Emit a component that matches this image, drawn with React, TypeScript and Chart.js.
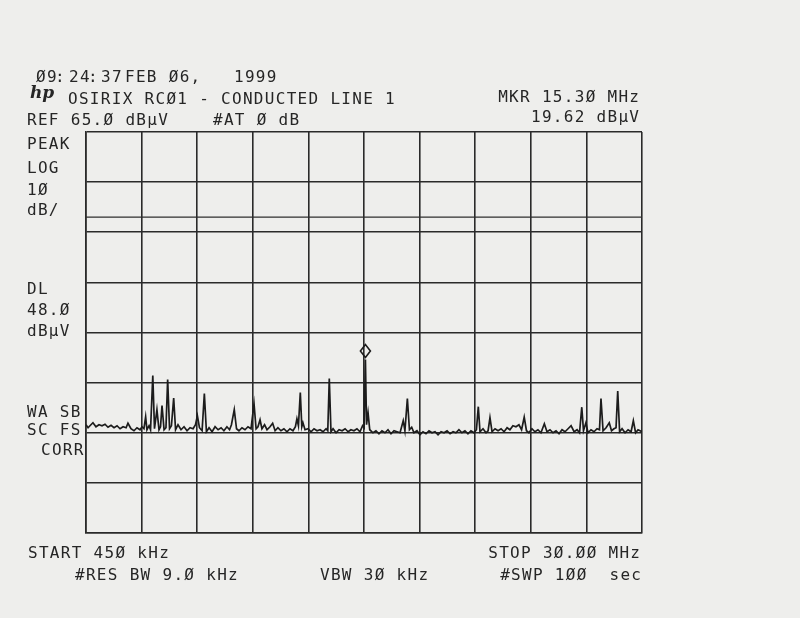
import { useEffect, useRef } from "react";
import { Chart, registerables, ChartConfiguration, Plugin } from "chart.js";

Chart.register(...registerables);

// analyzer settings
const startMHz = 0.45;
const stopMHz = 30.0;
const refLevel = 65.0; // dBµV at top graticule line
const dbPerDiv = 10;
const xDivs = 10;
const yDivs = 8;
const displayLine = 48.0;
const markerMHz = 15.3;
const markerLevel = 19.62;

// trace
const freqMHz = [
  0.45, 0.56, 0.66, 0.82, 0.98, 1.14, 1.3, 1.46, 1.62, 1.78, 1.94, 2.1, 2.26, 2.42, 2.58, 2.68, 2.84, 3.0,
  3.16, 3.32, 3.43, 3.53, 3.62, 3.69, 3.8, 3.88, 4.0, 4.09, 4.22, 4.33, 4.41, 4.49, 4.6, 4.7, 4.79, 4.89,
  4.99, 5.11, 5.21, 5.34, 5.5, 5.66, 5.82, 5.98, 6.14, 6.27, 6.37, 6.48, 6.62, 6.74, 6.85, 6.99, 7.15, 7.31,
  7.47, 7.63, 7.78, 7.94, 8.08, 8.18, 8.33, 8.45, 8.58, 8.74, 8.9, 9.06, 9.22, 9.38, 9.49, 9.59, 9.7, 9.8,
  9.94, 10.07, 10.23, 10.37, 10.5, 10.65, 10.81, 10.97, 11.13, 11.29, 11.45, 11.58, 11.66, 11.74, 11.84,
  11.92, 11.98, 12.09, 12.25, 12.41, 12.57, 12.73, 12.89, 13.05, 13.21, 13.3, 13.38, 13.47, 13.58, 13.74,
  13.9, 14.06, 14.22, 14.38, 14.53, 14.69, 14.85, 15.01, 15.15, 15.23, 15.3, 15.36, 15.44, 15.53, 15.7,
  15.86, 16.02, 16.18, 16.34, 16.5, 16.66, 16.82, 16.98, 17.14, 17.31, 17.4, 17.53, 17.64, 17.76, 17.88,
  18.04, 18.2, 18.36, 18.52, 18.68, 18.84, 19.0, 19.16, 19.32, 19.48, 19.64, 19.8, 19.96, 20.11, 20.27,
  20.43, 20.59, 20.75, 20.91, 21.07, 21.2, 21.3, 21.39, 21.55, 21.71, 21.82, 21.92, 22.03, 22.19, 22.35,
  22.51, 22.67, 22.83, 22.98, 23.14, 23.3, 23.46, 23.6, 23.74, 23.86, 23.99, 24.15, 24.31, 24.47, 24.63,
  24.81, 24.95, 25.11, 25.27, 25.43, 25.59, 25.75, 25.91, 26.07, 26.23, 26.39, 26.55, 26.68, 26.8, 26.89,
  27.02, 27.13, 27.29, 27.45, 27.61, 27.74, 27.82, 27.93, 28.09, 28.26, 28.38, 28.51, 28.62, 28.71, 28.81,
  28.94, 29.1, 29.26, 29.42, 29.54, 29.66, 29.79, 30.0,
];
const levelDbuV = [
  6.6, 6.0, 6.4, 7.0, 6.2, 6.6, 6.4, 6.7, 6.1, 6.5, 6.0, 6.4, 5.8, 6.2, 6.0, 6.9, 5.8, 5.4,
  6.0, 5.6, 6.2, 5.8, 8.2, 5.6, 6.4, 5.6, 16.4, 5.8, 9.6, 5.6, 6.2, 10.4, 5.6, 6.0, 15.6, 5.8,
  6.4, 11.9, 5.6, 6.6, 5.6, 6.2, 5.4, 6.0, 5.8, 6.6, 8.4, 6.0, 5.4, 12.8, 5.2, 6.0, 5.2, 6.2,
  5.6, 6.0, 5.4, 6.2, 5.6, 6.6, 9.6, 5.8, 5.4, 6.0, 5.6, 6.2, 5.8, 10.8, 5.8, 6.2, 7.6, 5.8,
  6.6, 5.6, 6.2, 6.9, 5.4, 6.0, 5.4, 5.8, 5.2, 5.8, 5.4, 6.2, 7.8, 6.4, 13.0,
  6.2, 7.0, 5.6, 5.8, 5.2, 5.8, 5.4, 5.6, 5.2, 5.8, 5.4, 15.8, 5.2, 5.8, 5.0,
  5.6, 5.4, 5.8, 5.2, 5.6, 5.4, 5.8, 5.2, 6.4, 6.0, 19.62, 6.6, 9.0, 5.6, 5.0,
  5.4, 4.8, 5.4, 5.0, 5.6, 4.8, 5.4, 5.2, 5.0, 7.4, 5.4, 11.8, 5.6, 6.1, 5.0,
  5.4, 4.6, 5.2, 4.8, 5.4, 5.0, 5.2, 4.6, 5.2, 5.0, 5.4, 4.8, 5.2, 5.0, 5.6,
  5.0, 5.4, 4.8, 5.4, 5.0, 5.6, 10.2, 5.2, 5.8, 5.0, 5.4, 8.0, 5.2, 5.8, 5.4,
  5.8, 5.2, 6.0, 5.6, 6.4, 6.2, 6.6, 5.6, 8.1, 5.4, 5.0, 5.8, 5.2, 5.6, 5.0,
  6.8, 5.2, 5.6, 5.0, 5.4, 4.8, 5.6, 5.2, 5.8, 6.4, 5.2, 5.6, 5.0, 10.1, 5.4,
  7.0, 5.0, 5.6, 5.2, 5.8, 5.6, 11.8, 5.4, 6.0, 7.0, 5.4, 5.8, 6.0, 13.3, 5.2,
  5.8, 5.0, 5.6, 5.2, 7.4, 5.0, 5.6, 5.2,
];

const ink = "#1c1c1c";
const paper = "#eeeeec";
const textFont = "16px 'DejaVu Sans Mono', 'Liberation Mono', monospace";

// annotation text of the printout
type Note = { text: string; x: number; y: number; align?: "left" | "right" };
const notes: Note[] = [
  { text: "Ø9", x: 36, y: 82 },
  { text: ":", x: 55, y: 82 },
  { text: "24", x: 69, y: 82 },
  { text: ":", x: 88, y: 82 },
  { text: "37", x: 101, y: 82 },
  { text: "FEB Ø6,", x: 125, y: 82 },
  { text: "1999", x: 234, y: 82 },
  { text: "OSIRIX RCØ1 - CONDUCTED LINE 1", x: 68, y: 104 },
  { text: "REF 65.Ø dBµV", x: 27, y: 125 },
  { text: "#AT Ø dB", x: 213, y: 125 },
  { text: "MKR 15.3Ø MHz", x: 639, y: 102, align: "right" },
  { text: "19.62 dBµV", x: 639, y: 122, align: "right" },
  { text: "PEAK", x: 27, y: 149 },
  { text: "LOG", x: 27, y: 173 },
  { text: "1Ø", x: 27, y: 195 },
  { text: "dB/", x: 27, y: 215 },
  { text: "DL", x: 27, y: 294 },
  { text: "48.Ø", x: 27, y: 315 },
  { text: "dBµV", x: 27, y: 336 },
  { text: "WA SB", x: 27, y: 417 },
  { text: "SC FS", x: 27, y: 435 },
  { text: "CORR", x: 41, y: 455 },
  { text: "START 45Ø kHz", x: 28, y: 558 },
  { text: "STOP 3Ø.ØØ MHz", x: 640, y: 558, align: "right" },
  { text: "#RES BW 9.Ø kHz", x: 75, y: 580 },
  { text: "VBW 3Ø kHz", x: 320, y: 580 },
  { text: "#SWP 1ØØ  sec", x: 641, y: 580, align: "right" },
];

const printoutPlugin: Plugin<"line"> = {
  id: "printout",
  beforeDraw(chart) {
    const { ctx, width, height } = chart;
    ctx.save();
    ctx.fillStyle = paper;
    ctx.fillRect(0, 0, width, height);
    ctx.restore();
  },
  afterDraw(chart) {
    const { ctx } = chart;
    ctx.save();
    ctx.fillStyle = "#262626";
    ctx.font = textFont;
    (ctx as any).letterSpacing = "1.3px";
    ctx.textBaseline = "alphabetic";
    notes.forEach((n) => {
      if (n.align === "right") {
        const w = ctx.measureText(n.text).width - 1.3;
        ctx.fillText(n.text, n.x - w, n.y);
      } else {
        ctx.fillText(n.text, n.x, n.y);
      }
    });

    // hp logo
    (ctx as any).letterSpacing = "0px";
    ctx.font = "italic bold 17px 'DejaVu Serif', serif";
    ctx.fillText("hp", 30, 98);

    // marker diamond sitting on the marked peak
    const x = chart.scales.x.getPixelForValue(markerMHz);
    const y = chart.scales.y.getPixelForValue(markerLevel);
    ctx.strokeStyle = ink;
    ctx.lineWidth = 1.6;
    ctx.beginPath();
    ctx.moveTo(x, y - 2);
    ctx.lineTo(x + 5, y - 8.5);
    ctx.lineTo(x, y - 15);
    ctx.lineTo(x - 5, y - 8.5);
    ctx.closePath();
    ctx.stroke();
    ctx.restore();
  },
};

const App = () => {
  const canvasRef = useRef<HTMLCanvasElement | null>(null);
  const chartRef = useRef<Chart<"line"> | null>(null);

  useEffect(() => {
    document.body.style.margin = "0";
    document.body.style.background = paper;
    if (!canvasRef.current) return;
    const ctx = canvasRef.current.getContext("2d");
    if (!ctx) return;

    if (chartRef.current) chartRef.current.destroy();

    const bottomLevel = refLevel - dbPerDiv * yDivs;
    const xGrid = Array.from({ length: xDivs + 1 }, (_, i) => startMHz + ((stopMHz - startMHz) * i) / xDivs);
    const yGrid = Array.from({ length: yDivs + 1 }, (_, i) => bottomLevel + dbPerDiv * i);

    const config: ChartConfiguration<"line"> = {
      type: "line",
      data: {
        datasets: [
          {
            data: freqMHz.map((f, i) => ({ x: f, y: levelDbuV[i] })),
            borderColor: ink,
            borderWidth: 1.7,
            pointRadius: 0,
            tension: 0,
          },
          {
            data: [
              { x: startMHz, y: displayLine },
              { x: stopMHz, y: displayLine },
            ],
            borderColor: "#2e2e2e",
            borderWidth: 1.2,
            pointRadius: 0,
          },
        ],
      },
      options: {
        responsive: false,
        animation: false,
        layout: { padding: { left: 86, top: 132, right: 158, bottom: 85 } },
        plugins: { legend: { display: false }, tooltip: { enabled: false } },
        scales: {
          x: {
            type: "linear",
            min: startMHz,
            max: stopMHz,
            afterBuildTicks: (axis) => {
              axis.ticks = xGrid.map((v) => ({ value: v }));
            },
            ticks: { display: false },
            grid: { color: "#2a2a2a", lineWidth: 1.6, drawTicks: false },
            border: { color: "#2a2a2a", width: 1.6 },
          },
          y: {
            type: "linear",
            min: bottomLevel,
            max: refLevel,
            afterBuildTicks: (axis) => {
              axis.ticks = yGrid.map((v) => ({ value: v }));
            },
            ticks: { display: false },
            grid: { color: "#2a2a2a", lineWidth: 1.6, drawTicks: false },
            border: { color: "#2a2a2a", width: 1.6 },
          },
        },
      },
      plugins: [printoutPlugin],
    };

    chartRef.current = new Chart(ctx, config);

    return () => {
      if (chartRef.current) {
        chartRef.current.destroy();
        chartRef.current = null;
      }
    };
  }, []);

  return <canvas ref={canvasRef} width={800} height={618} style={{ display: "block" }}></canvas>;
};

export default App;
